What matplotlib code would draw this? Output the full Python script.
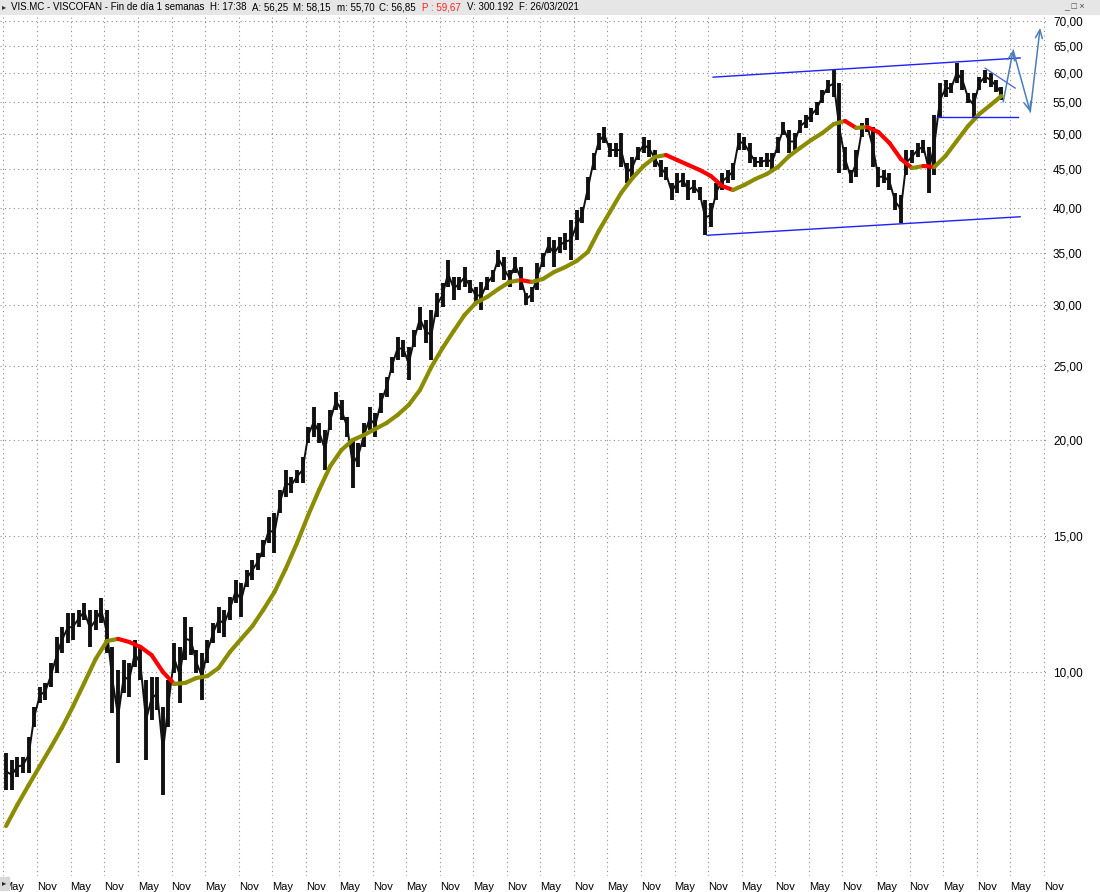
import numpy as np
import pandas as pd
import matplotlib
matplotlib.use("Agg")
import matplotlib.pyplot as plt
from matplotlib.patches import Rectangle
from matplotlib.ticker import FixedLocator, NullLocator

plt.rcParams['font.family'] = ['Liberation Sans', 'DejaVu Sans']

# Monthly high / low of the weekly bars, May 2006 .. Mar 2021
hi = [7.85, 7.69, 7.76, 7.76, 8.23, 9.01, 9.56, 9.68, 10.27, 11.10,
      11.44, 11.93, 11.93, 12.04, 12.29, 12.04, 12.04, 12.48, 12.04, 10.78,
      10.06, 10.37, 10.27, 11.00, 10.78, 9.76, 9.85, 9.85, 9.01, 9.76,
      10.91, 10.78, 11.79, 11.44, 10.68, 10.58, 11.00, 11.58, 12.14, 12.04,
      12.51, 13.17, 13.05, 13.57, 13.98, 14.27, 14.84, 15.89, 16.09, 17.23,
      18.29, 17.91, 18.29, 19.02, 20.80, 22.08, 21.05, 20.62, 21.89, 23.10,
      22.55, 21.43, 20.01, 19.83, 21.05, 22.08, 21.69, 23.03, 24.16, 25.64,
      27.22, 26.98, 26.42, 27.80, 29.78, 28.64, 29.51, 31.05, 31.99, 34.27,
      32.57, 32.57, 33.56, 32.28, 31.61, 32.09, 32.57, 33.26, 35.31, 34.58,
      33.26, 34.58, 33.56, 31.05, 31.61, 33.96, 34.99, 36.71, 36.38, 36.71,
      37.15, 38.63, 39.80, 40.15, 43.92, 47.19, 50.10, 51.01, 48.62, 48.62,
      50.10, 45.80, 46.63, 48.04, 49.51, 49.06, 47.61, 46.21, 45.26, 43.14,
      44.45, 44.45, 43.53, 43.53, 42.63, 41.00, 40.64, 43.14, 44.45, 44.85,
      45.80, 50.10, 49.51, 48.62, 46.63, 46.63, 47.19, 47.19, 49.51, 51.77,
      50.55, 50.10, 52.08, 52.87, 53.99, 54.96, 56.97, 58.70, 60.48, 58.18,
      48.04, 44.85, 47.61, 51.62, 52.40, 51.01, 45.26, 44.85, 44.45, 41.87,
      41.62, 47.61, 47.61, 48.62, 49.06, 48.04, 52.87, 58.18, 58.70, 58.18,
      61.76, 60.48, 56.46, 56.46, 59.23, 60.48, 59.94, 58.70, 57.49]
lo = [7.03, 7.03, 7.31, 7.39, 7.39, 8.48, 9.11, 9.20, 9.56, 9.97,
      10.58, 10.91, 11.00, 11.44, 11.68, 10.78, 11.34, 11.58, 10.58, 8.85,
      7.62, 9.39, 9.28, 10.15, 9.76, 7.69, 8.66, 8.93, 6.92, 8.48,
      9.97, 9.11, 10.37, 10.52, 9.97, 9.20, 10.27, 10.91, 11.24, 11.10,
      11.68, 12.29, 11.79, 12.89, 13.17, 13.57, 14.10, 14.71, 14.27, 16.09,
      16.88, 17.08, 17.60, 17.60, 19.83, 20.19, 19.83, 18.29, 20.62, 21.89,
      21.24, 20.19, 17.33, 18.46, 19.59, 20.62, 20.19, 21.69, 22.75, 24.45,
      25.41, 25.64, 23.94, 26.42, 27.80, 26.74, 25.41, 28.90, 29.78, 31.61,
      30.41, 31.33, 31.61, 31.05, 30.14, 29.51, 31.33, 32.09, 33.56, 32.28,
      31.61, 32.96, 31.33, 29.96, 30.23, 31.33, 33.56, 34.99, 33.56, 34.99,
      35.31, 34.27, 36.38, 38.28, 41.00, 44.85, 47.61, 48.62, 46.63, 46.63,
      45.26, 43.14, 43.92, 46.21, 47.19, 46.63, 45.26, 43.92, 43.53, 41.00,
      41.87, 42.63, 41.00, 41.87, 41.00, 36.93, 37.82, 41.00, 42.25, 43.14,
      43.53, 47.61, 47.61, 45.80, 45.26, 45.26, 45.26, 44.85, 47.19, 49.80,
      47.19, 47.61, 50.10, 50.86, 51.77, 52.87, 54.80, 56.46, 55.79, 44.45,
      44.85, 43.14, 43.92, 49.51, 50.25, 45.26, 42.63, 43.14, 42.25, 39.80,
      38.28, 44.19, 45.80, 46.63, 47.19, 41.87, 44.19, 52.55, 55.79, 56.46,
      58.18, 56.97, 54.80, 52.55, 56.97, 58.18, 57.49, 56.63, 55.29]

# 40-week moving average, read every second month
ma = [6.31, 6.72, 7.13, 7.55, 7.99, 8.46, 9.03, 9.68, 10.40, 10.97,
      11.04, 10.94, 10.78, 10.52, 10.00, 9.65, 9.68, 9.82, 9.88, 10.12,
      10.62, 11.04, 11.47, 12.04, 12.70, 13.61, 14.71, 15.99, 17.28, 18.51,
      19.42, 20.01, 20.31, 20.68, 21.05, 21.56, 22.22, 23.23, 24.89, 26.34,
      27.72, 29.08, 30.14, 30.68, 31.42, 32.09, 32.28, 32.09, 32.38, 33.06,
      33.56, 34.17, 35.10, 37.37, 39.56, 41.87, 43.79, 45.39, 46.63, 46.91,
      46.21, 45.53, 44.85, 44.05, 42.76, 42.25, 42.88, 43.66, 44.32, 45.26,
      46.77, 47.90, 49.06, 50.10, 51.46, 51.93, 50.86, 51.01, 50.25, 48.62,
      46.35, 45.11, 45.39, 45.26, 46.77, 48.91, 51.16, 53.02, 54.47, 55.96]

# hand drawn lines (date, price)
upper_line = (['2016-11-27', '2021-06-25'], [59.2, 62.7])
lower_line = (['2016-10-25', '2021-06-25'], [36.9, 39.0])
flat_line = (['2020-03-31', '2021-06-14'], [52.55, 52.55])
short_line = (['2020-12-17', '2021-05-29'], [60.8, 57.3])
arrow_pts = (['2021-03-25', '2021-05-18', '2021-08-19', '2021-10-12'],
             [54.96, 64.2, 53.34, 68.6])

yticks = [10, 15, 20, 25, 30, 35, 40, 45, 50, 55, 60, 65, 70]

months = pd.date_range('2006-05-01', periods=len(hi), freq='MS') + pd.Timedelta(days=14)
ma_dates = months[::2]

W, H = 1100, 892
fig = plt.figure(figsize=(W / 100, H / 100), dpi=100)
ax = fig.add_axes([0, 16 / H, 1046 / W, (876 - 15) / H])

# price bars
ax.vlines(months, lo, hi, color='#111111', lw=2.8)
ax.plot(months, np.sqrt(np.array(lo) * np.array(hi)), color='#111111', lw=1.4)

# moving average: red where falling
for k in range(len(ma) - 1):
    col = '#FF0000' if ma[k + 1] < ma[k] else '#8C8C00'
    ax.plot(ma_dates[k:k + 2], ma[k:k + 2], color=col, lw=3.0, solid_capstyle='round')

for xs, ys in [upper_line, lower_line, flat_line]:
    ax.plot(pd.to_datetime(xs), ys, color='#1F1FFF', lw=1.0)
ax.plot(pd.to_datetime(short_line[0]), short_line[1], color='#5A6BE0', lw=1.0)

a_dates = pd.to_datetime(arrow_pts[0])
for k in range(len(a_dates) - 1):
    ax.annotate('', xy=(a_dates[k + 1], arrow_pts[1][k + 1]),
                xytext=(a_dates[k], arrow_pts[1][k]),
                arrowprops=dict(arrowstyle='->,head_length=0.6,head_width=0.25',
                                color='#4A7EBB', lw=1.1, shrinkA=0, shrinkB=0))

ax.set_yscale('log')
ax.set_ylim(5.434, 71.29)
ax.set_xlim(pd.Timestamp('2006-04-12'), pd.Timestamp('2021-11-13'))

ax.yaxis.set_major_locator(FixedLocator(yticks))
ax.yaxis.set_minor_locator(NullLocator())
ax.set_yticklabels([f'{v:.2f}'.replace('.', ',') for v in yticks])
ax.yaxis.tick_right()
ax.tick_params(axis='y', length=0, pad=5, labelsize=8.5)

xt = []
for yr in range(2006, 2022):
    xt += [pd.Timestamp(f'{yr}-05-01'), pd.Timestamp(f'{yr}-11-01')]
ax.set_xticks(xt)
ax.set_xticklabels(['May', 'Nov'] * 16)
ax.tick_params(axis='x', length=0, pad=4, labelsize=8)
for lbl in ax.get_xticklabels():
    lbl.set_ha('left')

ax.grid(True, ls=(0, (1, 3)), color='#8E8E8E', lw=0.8)
ax.set_axisbelow(True)
for s in ax.spines.values():
    s.set_visible(False)

# header bar
fig.add_artist(Rectangle((0, 1 - 14 / H), 1, 14 / H, transform=fig.transFigure,
                         color='#E6E6E6', zorder=0))
hdr = [(11, 'VIS.MC - VISCOFAN - Fin de día 1 semanas', 'black'),
       (210, 'H: 17:38', 'black'), (252, 'A: 56,25', 'black'),
       (293, 'M: 58,15', 'black'), (337, 'm: 55,70', 'black'),
       (379, 'C: 56,85', 'black'), (422, 'P : 59,67', '#FF2020'),
       (467, 'V: 300.192', 'black'), (519, 'F: 26/03/2021', 'black')]
for xp, txt, col in hdr:
    fig.text(xp / W, 1 - 7.5 / H, txt, color=col, fontsize=7, va='center', ha='left')
fig.text(2 / W, 1 - 7.5 / H, '▸', fontsize=6, va='center', color='#333333')
fig.text(1064 / W, 1 - 7 / H, '_ □ ×', fontsize=6.5, va='center', color='#444444')

# bottom-left widget
fig.add_artist(Rectangle((0, 2 / H), 9 / W, 13 / H, transform=fig.transFigure,
                         color='#D8D8D8', zorder=5))
fig.text(1.5 / W, 8 / H, '▸', fontsize=6, va='center', color='#222222', zorder=6)

fig.savefig('out.png', dpi=100)
